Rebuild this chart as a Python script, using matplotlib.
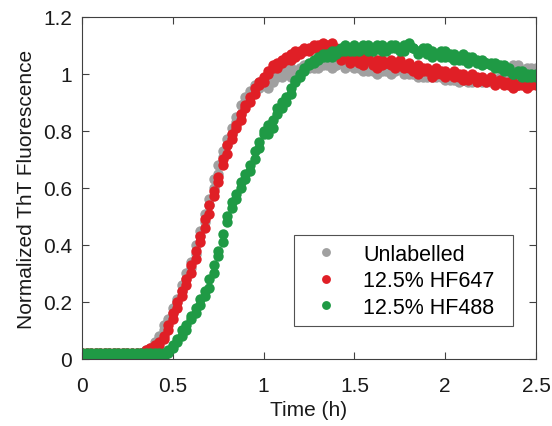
import numpy as np
import matplotlib
matplotlib.use("Agg")
import matplotlib.pyplot as plt
from matplotlib.ticker import FuncFormatter

plt.rcParams['font.family'] = ['Liberation Sans', 'DejaVu Sans']

# time points (h), one reading every 0.025 h
time_h = np.arange(101) * 0.025

# two replicate wells per condition
unlabelled_a = [
    0.02, 0.01, 0.02, 0.01, 0.02, 0.01, 0.02, 0.01, 0.02, 0.01,
    0.02, 0.01, 0.02, 0.02, 0.02, 0.03, 0.05, 0.07, 0.10, 0.13,
    0.16, 0.20, 0.24, 0.28, 0.32, 0.37, 0.43, 0.48, 0.54, 0.60,
    0.65, 0.71, 0.75, 0.79, 0.83, 0.86, 0.90, 0.93, 0.94, 0.95,
    0.96, 0.95, 0.97, 0.99, 0.99, 1.00, 0.99, 1.01, 1.02, 1.02,
    1.03, 1.02, 1.03, 1.04, 1.03, 1.04, 1.03, 1.05, 1.04, 1.03,
    1.02, 1.03, 1.02, 1.01, 1.03, 1.02, 1.01, 1.02, 1.01, 1.02,
    1.03, 1.01, 1.00, 1.02, 1.01, 0.99, 1.00, 0.99, 1.01, 0.99,
    0.98, 0.99, 0.98, 0.99, 0.98, 0.97, 0.99, 0.98, 0.97, 0.98,
    0.97, 0.98, 0.99, 1.00, 1.01, 1.03, 1.02, 1.00, 1.01, 1.02,
    1.01,
]
unlabelled_b = [
    0.01, 0.02, 0.01, 0.02, 0.01, 0.02, 0.01, 0.02, 0.01, 0.02,
    0.01, 0.02, 0.01, 0.01, 0.03, 0.04, 0.06, 0.08, 0.12, 0.14,
    0.18, 0.21, 0.26, 0.30, 0.34, 0.40, 0.45, 0.51, 0.56, 0.63,
    0.68, 0.73, 0.77, 0.81, 0.85, 0.89, 0.92, 0.94, 0.96, 0.97,
    0.97, 0.98, 0.99, 1.00, 1.01, 1.01, 1.02, 1.00, 1.01, 1.03,
    1.02, 1.03, 1.02, 1.03, 1.04, 1.02, 1.03, 1.04, 1.02, 1.04,
    1.03, 1.02, 1.01, 1.02, 1.01, 1.00, 1.02, 1.01, 1.00, 1.01,
    1.02, 1.00, 1.01, 1.00, 0.99, 1.00, 0.99, 1.01, 0.99, 1.00,
    0.99, 0.98, 0.99, 0.97, 0.98, 0.98, 0.97, 0.98, 0.98, 0.97,
    0.98, 0.97, 0.98, 0.99, 1.00, 1.02, 1.03, 1.01, 1.02, 1.00,
    1.02,
]

hf647_a = [
    0.01, 0.02, 0.01, 0.02, 0.01, 0.01, 0.02, 0.01, 0.02, 0.01,
    0.01, 0.02, 0.01, 0.02, 0.03, 0.04, 0.04, 0.05, 0.07, 0.10,
    0.14, 0.18, 0.22, 0.26, 0.30, 0.35, 0.41, 0.46, 0.51, 0.57,
    0.62, 0.68, 0.72, 0.77, 0.81, 0.84, 0.88, 0.90, 0.93, 0.96,
    0.97, 1.00, 1.02, 1.02, 1.04, 1.05, 1.05, 1.06, 1.07, 1.08,
    1.08, 1.09, 1.10, 1.09, 1.10, 1.11, 1.09, 1.07, 1.08, 1.06,
    1.07, 1.05, 1.06, 1.05, 1.04, 1.02, 1.05, 1.04, 1.05, 1.04,
    1.05, 1.03, 1.04, 1.02, 1.03, 1.02, 1.02, 1.01, 1.02, 1.00,
    1.01, 1.00, 1.01, 1.00, 1.00, 0.99, 1.00, 0.99, 0.99, 0.98,
    0.99, 0.97, 0.98, 0.97, 0.96, 0.97, 0.96, 0.97, 0.96, 0.97,
    0.96,
]
hf647_b = [
    0.02, 0.01, 0.02, 0.01, 0.02, 0.02, 0.01, 0.02, 0.01, 0.02,
    0.02, 0.01, 0.02, 0.01, 0.02, 0.03, 0.05, 0.06, 0.08, 0.12,
    0.16, 0.20, 0.24, 0.28, 0.33, 0.38, 0.43, 0.49, 0.54, 0.59,
    0.64, 0.70, 0.75, 0.79, 0.82, 0.86, 0.89, 0.92, 0.95, 0.97,
    0.99, 1.01, 1.03, 1.04, 1.05, 1.06, 1.07, 1.08, 1.08, 1.09,
    1.09, 1.10, 1.09, 1.11, 1.09, 1.08, 1.07, 1.05, 1.06, 1.04,
    1.05, 1.04, 1.03, 1.06, 1.03, 1.05, 1.03, 1.04, 1.03, 1.02,
    1.03, 1.02, 1.02, 1.01, 1.00, 1.01, 1.01, 0.99, 1.00, 1.01,
    0.99, 1.00, 0.99, 0.99, 0.98, 0.98, 0.99, 0.97, 0.98, 0.97,
    0.98, 0.96, 0.97, 0.96, 0.97, 0.95, 0.96, 0.96, 0.95, 0.96,
    0.97,
]

hf488_a = [
    0.02, 0.01, 0.02, 0.02, 0.01, 0.02, 0.01, 0.02, 0.02, 0.01,
    0.02, 0.01, 0.02, 0.01, 0.02, 0.01, 0.02, 0.01, 0.02, 0.03,
    0.04, 0.06, 0.08, 0.10, 0.14, 0.16, 0.19, 0.22, 0.25, 0.30,
    0.36, 0.41, 0.48, 0.53, 0.56, 0.60, 0.63, 0.66, 0.70, 0.74,
    0.79, 0.79, 0.81, 0.86, 0.88, 0.90, 0.93, 0.97, 0.99, 1.01,
    1.03, 1.04, 1.05, 1.06, 1.07, 1.06, 1.08, 1.09, 1.08, 1.09,
    1.08, 1.09, 1.10, 1.08, 1.09, 1.10, 1.08, 1.09, 1.10, 1.09,
    1.08, 1.10, 1.11, 1.09, 1.08, 1.09, 1.07, 1.08, 1.07, 1.06,
    1.08, 1.06, 1.07, 1.05, 1.07, 1.06, 1.05, 1.04, 1.05, 1.04,
    1.03, 1.04, 1.02, 1.03, 1.01, 1.00, 1.01, 0.99, 1.00, 0.99,
    0.99,
]
hf488_b = [
    0.01, 0.02, 0.01, 0.01, 0.02, 0.01, 0.02, 0.01, 0.01, 0.02,
    0.01, 0.02, 0.01, 0.02, 0.01, 0.02, 0.01, 0.02, 0.01, 0.02,
    0.05, 0.07, 0.10, 0.12, 0.15, 0.18, 0.21, 0.24, 0.28, 0.33,
    0.38, 0.44, 0.50, 0.55, 0.58, 0.62, 0.65, 0.68, 0.73, 0.76,
    0.80, 0.82, 0.84, 0.88, 0.90, 0.92, 0.95, 0.98, 1.00, 1.02,
    1.04, 1.05, 1.06, 1.07, 1.06, 1.08, 1.07, 1.08, 1.10, 1.08,
    1.10, 1.08, 1.09, 1.10, 1.08, 1.09, 1.10, 1.08, 1.09, 1.10,
    1.09, 1.08, 1.10, 1.09, 1.07, 1.08, 1.09, 1.06, 1.07, 1.08,
    1.06, 1.07, 1.05, 1.06, 1.05, 1.04, 1.06, 1.05, 1.03, 1.04,
    1.04, 1.02, 1.03, 1.01, 1.02, 1.00, 1.00, 1.01, 0.99, 1.00,
    1.00,
]

labels = ["Unlabelled", "12.5% HF647", "12.5% HF488"]
colors = ["#a0a0a0", "#e01f26", "#1f9a45"]
series = [(unlabelled_a, unlabelled_b), (hf647_a, hf647_b), (hf488_a, hf488_b)]

fig = plt.figure(figsize=(5.52, 4.27), dpi=100)
ax = fig.add_axes([0.1486, 0.157, 0.8224, 0.801])

for (va, vb), lab, c in zip(series, labels, colors):
    ax.plot(time_h, va, 'o', ms=7.5, color=c, mec='none', label=lab)
    ax.plot(time_h, vb, 'o', ms=7.5, color=c, mec='none')

ax.set_xlim(0, 2.5)
ax.set_ylim(0, 1.2)
ax.set_xticks([0, 0.5, 1, 1.5, 2, 2.5])
ax.set_yticks([0, 0.2, 0.4, 0.6, 0.8, 1.0, 1.2])
fmt = FuncFormatter(lambda v, p: f"{v:g}")
ax.xaxis.set_major_formatter(fmt)
ax.yaxis.set_major_formatter(fmt)
ax.tick_params(direction='in', length=5, width=0.8, labelsize=15,
               top=True, right=True, colors='#404040', labelcolor='#1a1a1a')
ax.tick_params(axis='x', pad=12)
ax.tick_params(axis='y', pad=7)
for sp in ax.spines.values():
    sp.set_color('#404040')
    sp.set_linewidth(0.8)

ax.set_xlabel("Time (h)", fontsize=15, color='#1a1a1a', labelpad=4)
ax.set_ylabel("Normalized ThT Fluorescence", fontsize=15, color='#1a1a1a', labelpad=5)

leg = ax.legend(loc='lower left', bbox_to_anchor=(0.467, 0.096, 0.482, 0.258),
                mode='expand', borderaxespad=0, fontsize=15.5, frameon=True,
                fancybox=False, edgecolor='#262626', handlelength=2.2,
                handletextpad=0.6, borderpad=0.4, labelspacing=0.25,
                markerscale=0.85)
leg.get_frame().set_linewidth(0.8)

fig.savefig("out.png", dpi=100)
